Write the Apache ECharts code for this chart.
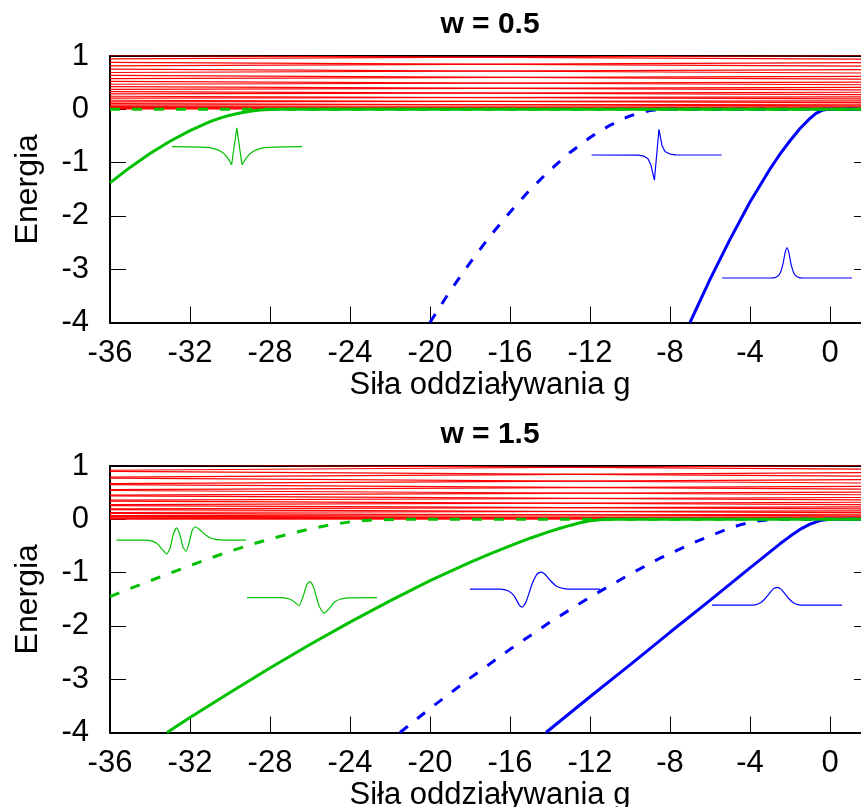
<!DOCTYPE html>
<html><head><meta charset="utf-8">
<script src="https://cdn.jsdelivr.net/npm/echarts@6/dist/echarts.min.js"></script>
<style>html,body{margin:0;padding:0;background:#fff}#c{width:861px;height:807px}</style>
</head><body><div id="c"></div>
<script>
// ---------- data ----------
const panelTitles = ['w = 0.5', 'w = 1.5'];
const xName = 'Siła oddziaływania g';
const yName = 'Energia';
const gEdges = [-36, 2];
// continuum levels: two families, energy at g=-36 (left) and g=2 (right)
const contALeft  = [0.008,0.035,0.080,0.140,0.210,0.290,0.375,0.470,0.575,0.690,0.815,0.945];
const contARight = [0.012,0.045,0.095,0.160,0.235,0.320,0.410,0.510,0.620,0.745,0.875,1.010];
const contBLeft  = [0.015,0.050,0.105,0.170,0.245,0.330,0.425,0.525,0.635,0.755,0.880,1.010];
const contBRight = [0.003,0.025,0.065,0.125,0.195,0.275,0.365,0.460,0.565,0.680,0.810,0.940];
const contBotALeft  = [0.004,0.028,0.070,0.128,0.196,0.274,0.358,0.452,0.556,0.668,0.792,0.920];
const contBotARight = [0.012,0.045,0.095,0.160,0.235,0.320,0.410,0.510,0.620,0.745,0.875,1.010];
const contBotBLeft  = [0.018,0.056,0.112,0.180,0.256,0.342,0.438,0.540,0.650,0.772,0.898,1.030];
const contBotBRight = [0.003,0.025,0.065,0.125,0.195,0.275,0.365,0.460,0.565,0.680,0.810,0.940];

// bound-state curves [g, E]
const topGreenSolid = [[-36,-1.38],[-35,-1.09],[-34,-0.83],[-33,-0.60],[-32,-0.40],[-31,-0.23],[-30.5,-0.165],[-30,-0.11],[-29.5,-0.068],[-29,-0.036],[-28.5,-0.015],[-28,-0.004],[-27.5,0],[2,0]];
const topGreenDashed = [[-36,0],[2,0]];
const topBlueDashed = [[-20,-4.0],[-19,-3.41],[-18,-2.88],[-17,-2.38],[-16,-1.93],[-15,-1.51],[-14,-1.14],[-13,-0.81],[-12,-0.53],[-11.5,-0.41],[-11,-0.30],[-10.5,-0.205],[-10,-0.125],[-9.5,-0.065],[-9,-0.025],[-8.5,-0.005],[-8,0],[2,0]];
const topBlueSolid = [[-7,-4],[-6,-3.19],[-5,-2.44],[-4,-1.74],[-3,-1.12],[-2.5,-0.84],[-2,-0.59],[-1.5,-0.36],[-1,-0.17],[-0.7,-0.075],[-0.4,-0.02],[-0.1,0],[2,0]];

const botGreenDashed = [[-36,-1.45],[-35,-1.30],[-34,-1.155],[-33,-1.01],[-32,-0.87],[-31,-0.73],[-30,-0.60],[-29,-0.48],[-28,-0.37],[-27,-0.27],[-26,-0.18],[-25,-0.105],[-24,-0.048],[-23,-0.016],[-22,-0.004],[-21,0],[2,0]];
const botGreenSolid = [[-33.15,-4],[-32,-3.72],[-30,-3.25],[-28,-2.79],[-26,-2.35],[-24,-1.93],[-22,-1.53],[-20,-1.15],[-18,-0.81],[-17,-0.65],[-16,-0.50],[-15,-0.355],[-14,-0.227],[-13.5,-0.168],[-13,-0.115],[-12.5,-0.065],[-12,-0.028],[-11.5,-0.008],[-11,0],[2,0]];
const botBlueDashed = [[-21.5,-4],[-20,-3.55],[-18,-2.98],[-16,-2.44],[-14,-1.93],[-12,-1.46],[-10,-1.03],[-8.5,-0.73],[-7,-0.47],[-6,-0.31],[-5,-0.165],[-4.5,-0.105],[-4,-0.058],[-3.5,-0.025],[-3,-0.007],[-2.5,0],[2,0]];
const botBlueSolid = [[-14.2,-4],[-12,-3.33],[-10,-2.73],[-8,-2.12],[-6,-1.52],[-5,-1.215],[-4,-0.91],[-3.5,-0.76],[-3,-0.61],[-2.5,-0.46],[-2,-0.32],[-1.5,-0.19],[-1,-0.09],[-0.5,-0.025],[0,0],[2,0]];

// wavefunction insets [g, E]
const insetTopGreen = [[-32.9,-0.70],[-31.5,-0.71],[-31.0,-0.72],[-30.6,-0.76],[-30.3,-0.83],[-30.1,-0.92],[-29.92,-1.04],[-29.66,-0.35],[-29.4,-1.04],[-29.2,-0.92],[-29.0,-0.83],[-28.7,-0.76],[-28.3,-0.72],[-27.8,-0.71],[-26.4,-0.70]];
const insetTopBlue1 = [[-11.92,-0.857],[-9.6,-0.86],[-9.3,-0.88],[-9.1,-0.93],[-8.95,-1.05],[-8.78,-1.33],[-8.55,-0.375],[-8.4,-0.68],[-8.25,-0.79],[-8.0,-0.84],[-7.7,-0.855],[-5.42,-0.857]];
const insetTopBlue2 = [[-5.4,-3.165],[-3.0,-3.165],[-2.7,-3.15],[-2.5,-3.08],[-2.35,-2.90],[-2.25,-2.70],[-2.15,-2.60],[-2.05,-2.70],[-1.95,-2.90],[-1.8,-3.08],[-1.6,-3.15],[-1.3,-3.165],[1.1,-3.165]];
const insetBotGreen1 = [[-35.67,-0.39],[-34.3,-0.39],[-33.9,-0.41],[-33.6,-0.47],[-33.4,-0.56],[-33.17,-0.65],[-33.0,-0.55],[-32.85,-0.30],[-32.67,-0.16],[-32.5,-0.30],[-32.35,-0.52],[-32.2,-0.60],[-32.05,-0.45],[-31.9,-0.22],[-31.75,-0.14],[-31.5,-0.20],[-31.2,-0.30],[-30.9,-0.36],[-30.5,-0.385],[-29.2,-0.39]];
const insetBotGreen2 = [[-29.15,-1.47],[-27.4,-1.47],[-27.0,-1.50],[-26.75,-1.56],[-26.55,-1.62],[-26.35,-1.45],[-26.15,-1.22],[-26.0,-1.17],[-25.8,-1.30],[-25.55,-1.62],[-25.3,-1.76],[-25.05,-1.68],[-24.8,-1.56],[-24.5,-1.50],[-24.1,-1.475],[-22.65,-1.47]];
const insetBotBlue1 = [[-18.0,-1.31],[-16.5,-1.31],[-16.1,-1.34],[-15.8,-1.43],[-15.55,-1.60],[-15.4,-1.65],[-15.2,-1.55],[-14.9,-1.22],[-14.65,-1.03],[-14.45,-0.99],[-14.25,-1.03],[-14.0,-1.14],[-13.7,-1.25],[-13.3,-1.30],[-12.8,-1.31],[-11.5,-1.31]];
const insetBotBlue2 = [[-5.9,-1.61],[-4.0,-1.61],[-3.7,-1.60],[-3.45,-1.56],[-3.25,-1.49],[-3.05,-1.40],[-2.85,-1.31],[-2.65,-1.277],[-2.45,-1.31],[-2.25,-1.40],[-2.05,-1.49],[-1.85,-1.56],[-1.6,-1.60],[-1.3,-1.61],[0.6,-1.61]];

// ---------- chart ----------
const FONT = "'Liberation Sans', Arial, Helvetica, sans-serif";
const RED = '#ff0000', GREEN = '#00c000', BLUE = '#0000ff';
const DASH = [10, 12];
const grids = [
  {left: 110, top: 56, width: 760, height: 266.5, outerBoundsMode: 'none', containLabel: false},
  {left: 110, top: 466, width: 760, height: 266.5, outerBoundsMode: 'none', containLabel: false}
];
const axLine = {show: true, onZero: false, lineStyle: {color: '#000', width: 2}};
const xAxes = [], yAxes = [];
[0, 1].forEach(gi => {
  xAxes.push({gridIndex: gi, type: 'value', min: -36, max: 2, interval: 4, position: 'bottom',
    axisLine: axLine, axisTick: {show: true, inside: true, length: 16, lineStyle: {color: '#000', width: 1}},
    axisLabel: {margin: 15, fontSize: 31, color: '#000', fontFamily: FONT, showMaxLabel: false},
    splitLine: {show: false},
    name: xName, nameLocation: 'middle', nameGap: 47,
    nameTextStyle: {fontSize: 31, color: '#000', fontFamily: FONT}});
  xAxes.push({gridIndex: gi, type: 'value', min: -36, max: 2, interval: 4, position: 'top',
    axisLine: axLine, axisTick: {show: false}, axisLabel: {show: false}, splitLine: {show: false}});
  yAxes.push({gridIndex: gi, type: 'value', min: -4, max: 1, interval: 1, position: 'left',
    axisLine: axLine, axisTick: {show: true, inside: true, length: 16, lineStyle: {color: '#000', width: 1}},
    axisLabel: {margin: 21, fontSize: 31, color: '#000', fontFamily: FONT},
    splitLine: {show: false},
    name: yName, nameLocation: 'middle', nameGap: 66,
    nameTextStyle: {fontSize: 32, color: '#000', fontFamily: FONT}});
  yAxes.push({gridIndex: gi, type: 'value', min: -4, max: 1, interval: 1, position: 'right',
    axisLine: axLine, axisTick: {show: true, inside: true, length: 16, lineStyle: {color: '#000', width: 1}},
    axisLabel: {show: false}, splitLine: {show: false}});
});

const series = [];
function line(gi, data, color, width, dashed, z, smooth) {
  series.push({type: 'line', xAxisIndex: gi * 2, yAxisIndex: gi * 2, data: data,
    showSymbol: false, symbol: 'none', silent: true, z: z, clip: true,
    smooth: smooth || false,
    lineStyle: {color: color, width: width, type: dashed ? DASH : 'solid'}});
}
function continuum(gi, leftArr, rightArr) {
  leftArr.forEach((v, i) => line(gi, [[gEdges[0], v], [gEdges[1], rightArr[i]]], RED, 1.2, false, 1));
}
continuum(0, contALeft, contARight);
continuum(0, contBLeft, contBRight);
continuum(1, contBotALeft, contBotARight);
continuum(1, contBotBLeft, contBotBRight);

line(0, topBlueDashed, BLUE, 3, true, 3);
line(0, topBlueSolid, BLUE, 3, false, 3);
line(0, topGreenDashed, GREEN, 3, true, 4);
line(0, topGreenSolid, GREEN, 3, false, 4);
line(1, botBlueDashed, BLUE, 3, true, 3);
line(1, botBlueSolid, BLUE, 3, false, 3);
line(1, botGreenDashed, GREEN, 3, true, 4);
line(1, botGreenSolid, GREEN, 3, false, 4);

line(0, insetTopGreen, GREEN, 1.2, false, 5);
line(0, insetTopBlue1, BLUE, 1.2, false, 5);
line(0, insetTopBlue2, BLUE, 1.2, false, 5, 0.2);
line(1, insetBotGreen1, GREEN, 1.2, false, 5, 0.2);
line(1, insetBotGreen2, GREEN, 1.2, false, 5, 0.2);
line(1, insetBotBlue1, BLUE, 1.2, false, 5, 0.2);
line(1, insetBotBlue2, BLUE, 1.2, false, 5, 0.2);

const chart = echarts.init(document.getElementById('c'), null, {renderer: 'canvas'});
chart.setOption({
  animation: false,
  backgroundColor: '#fff',
  title: panelTitles.map((t, i) => ({text: t, left: 490, top: i === 0 ? 10 : 420, textAlign: 'center', padding: 0,
    textStyle: {fontSize: 30, fontWeight: 'bold', color: '#000', fontFamily: FONT}})),
  grid: grids,
  xAxis: xAxes,
  yAxis: yAxes,
  series: series
});
</script>
</body></html>
